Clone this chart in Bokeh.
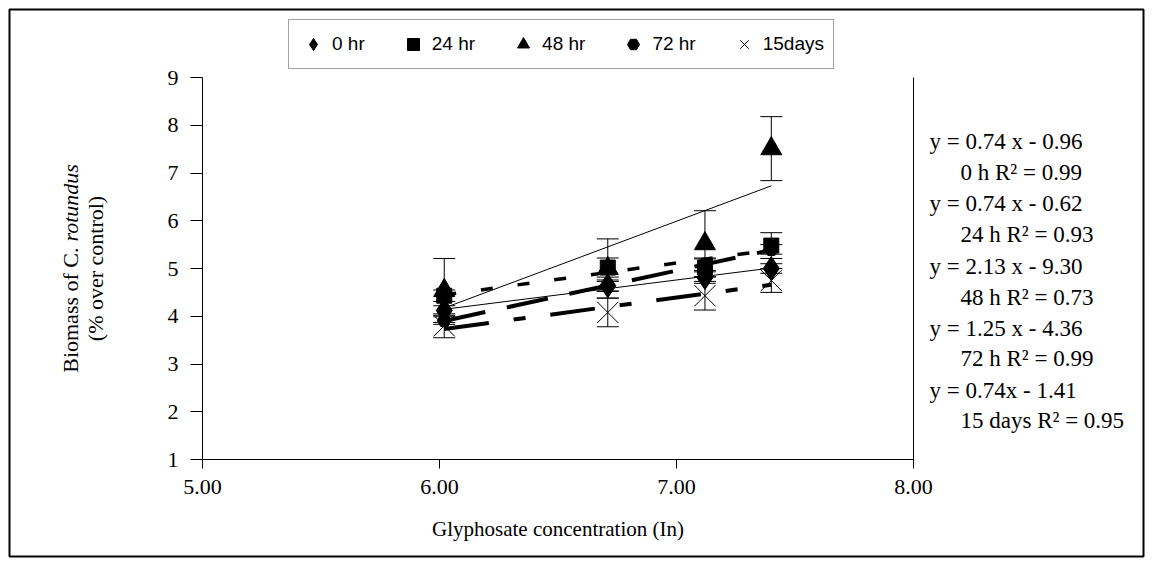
import numpy as np
from bokeh.plotting import figure
from bokeh.models import (Range1d, FixedTicker, NumeralTickFormatter, Label, BoxAnnotation,
                          Legend, LegendItem, Whisker, TeeHead, ColumnDataSource)
from bokeh.embed import file_html
from bokeh.resources import INLINE

# ---------------- data ----------------
conc_ln = [6.02, 6.71, 7.12, 7.40]

series_names = ["0 hr", "24 hr", "48 hr", "72 hr", "15days"]
biomass_0hr = [4.12, 4.64, 4.81, 5.00]
biomass_24hr = [4.43, 5.02, 5.02, 5.48]
biomass_48hr = [4.54, 5.00, 5.52, 7.51]
biomass_72hr = [3.91, 4.63, 5.08, 5.40]
biomass_15d = [3.80, 4.08, 4.43, 4.75]

err_0hr = [0.10, 0.12, 0.12, 0.10]
err_24hr = [0.12, 0.20, 0.20, 0.27]
err_48hr = [0.67, 0.62, 0.69, 0.67]
err_72hr = [0.08, 0.10, 0.12, 0.10]
err_15d = [0.25, 0.30, 0.30, 0.25]

x_ticks = [5, 6, 7, 8]
y_ticks = [1, 2, 3, 4, 5, 6, 7, 8, 9]

equation_texts = ["y = 0.74 x - 0.96", "y = 0.74 x - 0.62", "y = 2.13 x - 9.30",
                  "y = 1.25 x - 4.36", "y = 0.74x - 1.41"]
r2_texts = ["0 h R\u00b2 = 0.99", "24 h R\u00b2 = 0.93", "48 h R\u00b2 = 0.73",
            "72 h R\u00b2 = 0.99", "15 days R\u00b2 = 0.95"]

x_title = "Glyphosate concentration (In)"
y_title_a = "Biomass of C."
y_title_b = "rotundus"
y_title_2 = "(% over control)"

# ---------------- layout (page pixels) ----------------
W, H = 1152, 570
AX_L, AX_R = 202, 913      # pixel of x = 5 and x = 8
AX_T, AX_B = 77, 459       # pixel of y = 9 and y = 1
XA, XB = x_ticks[0], x_ticks[-1]
YA, YB = y_ticks[0], y_ticks[-1]
KX = (AX_R - AX_L) / (XB - XA)
KY = (AX_B - AX_T) / (YB - YA)

def dx(px):
    return XA + (px - AX_L) / KX

def dy(py):
    return YA + (AX_B - py) / KY

SERIF = "Liberation Serif"
SANS = "Liberation Sans"

p = figure(width=W, height=H, x_range=Range1d(dx(0), dx(W)), y_range=Range1d(dy(H), dy(0)),
           output_backend="svg", toolbar_location=None,
           min_border=0, min_border_left=0, min_border_right=0,
           min_border_top=0, min_border_bottom=0)
p.outline_line_color = None
p.grid.visible = False
p.background_fill_color = "white"
p.border_fill_color = "white"

for ax in (p.xaxis[0], p.yaxis[0]):
    ax.axis_line_color = "black"
    ax.axis_line_width = 1
    ax.major_tick_line_color = "black"
    ax.major_tick_in = 0
    ax.minor_tick_line_color = None
    ax.major_label_text_font = SERIF
    ax.major_label_text_font_size = "22px"
    ax.major_label_text_color = "black"

p.xaxis.fixed_location = YA
p.xaxis.bounds = (XA, XB)
p.xaxis.ticker = FixedTicker(ticks=x_ticks)
p.xaxis.formatter = NumeralTickFormatter(format="0.00")
p.xaxis.major_tick_out = 9
p.xaxis.major_label_standoff = 11
p.xaxis.axis_label = x_title
p.xaxis.axis_label_text_font = SERIF
p.xaxis.axis_label_text_font_size = "21px"
p.xaxis.axis_label_text_font_style = "normal"
p.xaxis.axis_label_text_color = "black"
p.xaxis.axis_label_standoff = 20

p.yaxis.fixed_location = XA
p.yaxis.bounds = (YA, YB)
p.yaxis.ticker = FixedTicker(ticks=y_ticks)
p.yaxis.major_tick_out = 12
p.yaxis.major_label_standoff = 12

# right border of the plot area
p.segment(x0=[XB], y0=[YA], x1=[XB], y1=[YB], line_color="black", line_width=1)

# outer frame of the whole chart
p.add_layout(BoxAnnotation(left=dx(9), right=dx(1143), top=dy(9), bottom=dy(556),
                           fill_alpha=0, line_color="black", line_alpha=1, line_width=2,
                           level="underlay"))

# ---------------- series ----------------
ys = [biomass_0hr, biomass_24hr, biomass_48hr, biomass_72hr, biomass_15d]
errs = [err_0hr, err_24hr, err_48hr, err_72hr, err_15d]
markers = ["diamond", "square", "triangle", "hex", "x"]
sizes = [24, 15, 21, 14, 30]
trend_styles = [dict(line_width=1, line_dash="solid"),
                dict(line_width=3.5, line_dash="12 25"),
                dict(line_width=1, line_dash="solid"),
                dict(line_width=4, line_dash="42 22"),
                dict(line_width=4, line_dash="45 25 12 25")]

# trendlines (least squares fit of each series)
for y, st in zip(ys, trend_styles):
    k, b = np.polyfit(conc_ln, y, 1)
    xs = [conc_ln[0], conc_ln[-1]]
    p.line(xs, [k * v + b for v in xs], line_color="black", line_cap="butt", **st)

# error bars
for y, e in zip(ys, errs):
    src = ColumnDataSource(dict(x=conc_ln,
                                upper=[a + c for a, c in zip(y, e)],
                                lower=[a - c for a, c in zip(y, e)]))
    p.add_layout(Whisker(source=src, base="x", upper="upper", lower="lower",
                         dimension="height", line_color="black", line_width=1,
                         upper_head=TeeHead(size=22, line_color="black", line_width=1),
                         lower_head=TeeHead(size=22, line_color="black", line_width=1)))

renderers = []
for y, m, s in zip(ys, markers, sizes):
    r = p.scatter(conc_ln, y, marker=m, size=s, fill_color="black",
                  line_color="black", line_width=1)
    renderers.append(r)

legend = Legend(items=[LegendItem(label=n, renderers=[r]) for n, r in zip(series_names, renderers)],
                orientation="horizontal", location=(288, H - 69),
                glyph_width=30, glyph_height=30, label_standoff=4, spacing=33,
                padding=9, margin=0, border_line_color="#444", border_line_width=1,
                label_text_font=SANS, label_text_font_size="19px", label_text_color="black",
                background_fill_color="white", background_fill_alpha=1)
p.add_layout(legend)

# ---------------- equations on the right ----------------
eq_rows_y = [141, 203, 266, 328, 390]
r2_rows_y = [172, 234, 297, 358, 420]
for t, yy in zip(equation_texts, eq_rows_y):
    p.add_layout(Label(x=dx(929), y=dy(yy), text=t, text_font=SERIF, text_font_size="23px",
                       text_baseline="middle", text_align="left", text_color="black"))
for t, yy in zip(r2_texts, r2_rows_y):
    p.add_layout(Label(x=dx(960), y=dy(yy), text=t, text_font=SERIF, text_font_size="23px",
                       text_baseline="middle", text_align="left", text_color="black"))

# ---------------- y title (two lines, rotated) ----------------
p.add_layout(Label(x=dx(70), y=dy(247), text=y_title_a, angle=np.pi / 2, text_font=SERIF,
                   text_font_size="22px", text_baseline="middle", text_align="right",
                   text_color="black"))
p.add_layout(Label(x=dx(70), y=dy(241), text=y_title_b, angle=np.pi / 2, text_font=SERIF,
                   text_font_size="22px", text_font_style="italic", text_color="black",
                   text_baseline="middle", text_align="left"))
p.add_layout(Label(x=dx(95), y=dy(268), text=y_title_2, angle=np.pi / 2, text_font=SERIF,
                   text_font_size="22px", text_baseline="middle", text_align="center",
                   text_color="black"))

open("out.html", "w").write(file_html(p, INLINE))
